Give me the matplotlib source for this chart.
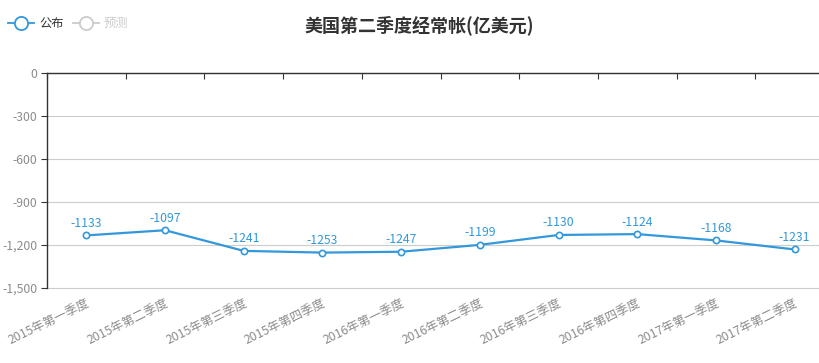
import matplotlib.pyplot as plt
from matplotlib.lines import Line2D
from matplotlib.ticker import FuncFormatter
import matplotlib.transforms as mtransforms

plt.rcParams['font.family'] = ['Noto Sans CJK SC', 'DejaVu Sans']

BLUE = '#3398DB'
GRAY = '#8c8c8c'

title = '美国第二季度经常帐(亿美元)'
categories = ['2015年第一季度', '2015年第二季度', '2015年第三季度', '2015年第四季度',
              '2016年第一季度', '2016年第二季度', '2016年第三季度', '2016年第四季度',
              '2017年第一季度', '2017年第二季度']
published = [-1133, -1097, -1241, -1253, -1247, -1199, -1130, -1124, -1168, -1231]
legend_names = ['公布', '预测']
y_ticks = [0, -300, -600, -900, -1200, -1500]

W, H = 819, 363
fig = plt.figure(figsize=(W / 100, H / 100), dpi=100)
ax = fig.add_axes([47 / W, 1 - 288 / H, (834 - 47) / W, (288 - 73) / H])

x = list(range(len(categories)))
ax.plot(x, published, color=BLUE, lw=1.6, marker='o', ms=4.5,
        mfc='white', mec=BLUE, mew=1.2, zorder=3, clip_on=False)
for xi, v in zip(x, published):
    ax.annotate(str(v), (xi, v), xytext=(0, 4), textcoords='offset points',
                ha='center', va='bottom', color=BLUE, fontsize=8.8)

ax.set_xlim(-0.5, len(categories) - 0.5)
ax.set_ylim(y_ticks[-1], y_ticks[0])

# y axis
ax.set_yticks(y_ticks)
ax.yaxis.set_major_formatter(FuncFormatter(lambda v, p: f'{int(v):,}'))
ax.tick_params(axis='y', direction='out', length=4, color='#333333',
               labelcolor=GRAY, labelsize=8.8, pad=3)
ax.grid(axis='y', color='#cccccc', lw=0.8)
ax.set_axisbelow(True)
for gl in ax.get_ygridlines():
    gl.set_clip_on(False)

# category axis sits on zero (top)
ax.xaxis.set_ticks_position('top')
ax.set_xticks([i - 0.5 for i in range(len(categories) + 1)])
ax.set_xticklabels([])
ax.tick_params(axis='x', direction='in', length=4, color='#333333')

for side in ['right', 'bottom']:
    ax.spines[side].set_visible(False)
for side in ['left', 'top']:
    ax.spines[side].set_color('#333333')
    ax.spines[side].set_linewidth(1.0)

trans = mtransforms.blended_transform_factory(ax.transData, ax.transAxes)
for xi, lab in zip(x, categories):
    ax.text(xi, -0.04, lab, transform=trans, rotation=26, rotation_mode='anchor',
            ha='right', va='top', color=GRAY, fontsize=8.8)

fig.text(419 / W, 1 - 25 / H, title, ha='center', va='center',
         fontsize=13, fontweight='bold', color='#333333')

# legend
legend_colors = [BLUE, '#cccccc']
legend_text_colors = ['#333333', '#cccccc']
starts = [8, 73]
for name, c, tc, x0 in zip(legend_names, legend_colors, legend_text_colors, starts):
    ly = 1 - 23 / H
    fig.add_artist(Line2D([x0 / W, (x0 + 26) / W], [ly, ly], color=c, lw=1.3,
                          transform=fig.transFigure))
    fig.add_artist(Line2D([(x0 + 13) / W], [ly], marker='o', ms=9.5, mfc='white',
                          mec=c, mew=1.3, transform=fig.transFigure))
    fig.text((x0 + 31) / W, ly, name, ha='left', va='center', fontsize=8.8, color=tc)

fig.savefig('out.png', dpi=100)
